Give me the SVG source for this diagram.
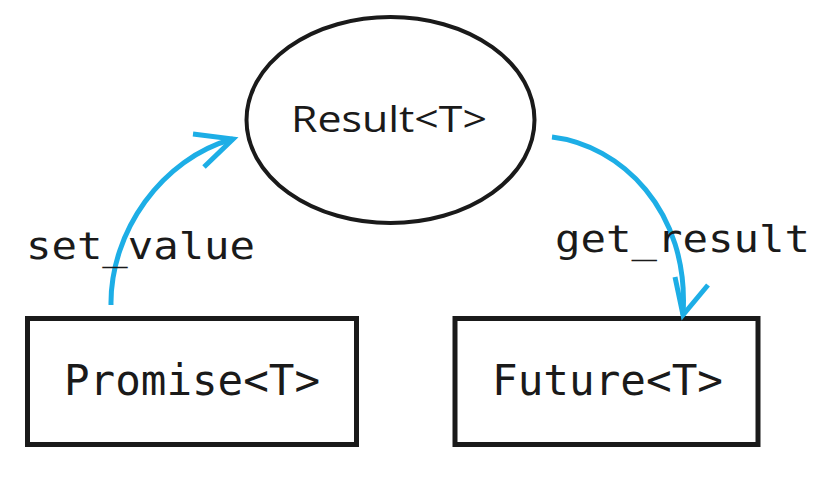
<svg xmlns="http://www.w3.org/2000/svg" width="837" height="479" viewBox="0 0 837 479">
<defs>
<style>
.node{fill:#fff;stroke:#1a1a1a;stroke-width:5}
.mono{font-family:"DejaVu Sans Mono","Liberation Mono",monospace;fill:#1a1a1a;text-anchor:middle}
.sans{font-family:"Open Sans","DejaVu Sans",sans-serif;fill:#1a1a1a;text-anchor:middle}
.conn{fill:none;stroke:#1daee6;stroke-width:5;stroke-linecap:butt}
</style>
</defs>
<rect width="837" height="479" fill="#fff"/>
<g id="result">
<ellipse class="node" cx="390.5" cy="120" rx="144" ry="103" style="stroke-width:4"/>
<text class="sans" x="389" y="132" font-size="36" textLength="196" lengthAdjust="spacingAndGlyphs">Result&lt;T&gt;</text>
</g>
<g id="promise">
<rect class="node" x="27.5" y="318.5" width="329" height="126"/>
<text class="mono" x="192" y="395" font-size="43" textLength="256" lengthAdjust="spacingAndGlyphs">Promise&lt;T&gt;</text>
</g>
<g id="future">
<rect class="node" x="455" y="318.5" width="303" height="126"/>
<text class="mono" x="607.5" y="395" font-size="43" textLength="231" lengthAdjust="spacingAndGlyphs">Future&lt;T&gt;</text>
</g>
<g id="connectors">
<path class="conn" d="M111,305 C110,232 162,158 233,139"/>
<path class="conn" d="M193,134 L233,139 L204,167"/>
<path class="conn" d="M552,137 C620,145 690,210 683,315"/>
<path class="conn" d="M675,277 L683,315 L708,285"/>
<text class="mono" x="140.5" y="259" font-size="38" textLength="229" lengthAdjust="spacingAndGlyphs">set_value</text>
<text class="mono" x="682.5" y="252" font-size="38" textLength="255" lengthAdjust="spacingAndGlyphs">get_result</text>
</g>
</svg>
